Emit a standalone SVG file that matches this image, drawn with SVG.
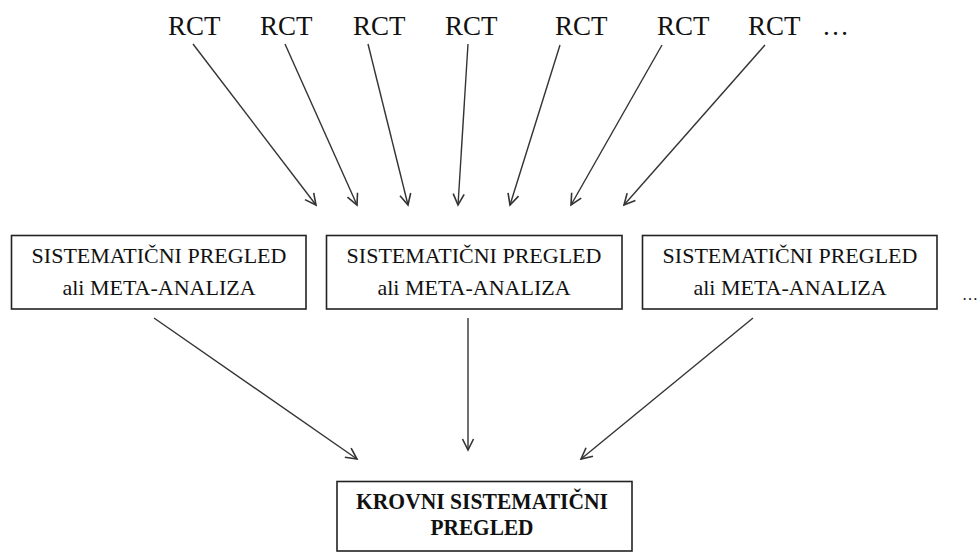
<svg xmlns="http://www.w3.org/2000/svg" width="980" height="552" viewBox="0 0 980 552">
<style>
text{font-family:'Liberation Serif','Times New Roman','DejaVu Serif',serif;fill:#111;}
.rct{font-size:27px;}
.bx{font-size:22px;text-anchor:middle;}
.bb{font-size:22.5px;font-weight:bold;text-anchor:middle;}
.box{fill:#fff;stroke:#222;stroke-width:1.6;}
.c{stroke:#333;stroke-width:1.4;fill:none;marker-end:url(#ah);}
</style>
<defs>
<marker id="ah" markerUnits="userSpaceOnUse" markerWidth="14" markerHeight="14" viewBox="0 0 14 14" refX="12" refY="7" orient="auto">
<path d="M1,1.5 L12,7 L1,12.5" fill="none" stroke="#333" stroke-width="1.6"/>
</marker>
</defs>
<rect width="980" height="552" fill="#fff"/>
<g font-family="Liberation Serif, Times New Roman, DejaVu Serif, serif">
<g id="rct1"><text class="rct" x="168" y="35">RCT</text></g>
<g id="rct2"><text class="rct" x="260" y="35">RCT</text></g>
<g id="rct3"><text class="rct" x="353" y="35">RCT</text></g>
<g id="rct4"><text class="rct" x="445" y="35">RCT</text></g>
<g id="rct5"><text class="rct" x="555" y="35">RCT</text></g>
<g id="rct6"><text class="rct" x="657" y="35">RCT</text></g>
<g id="rct7"><text class="rct" x="748" y="35">RCT</text></g>
<g id="more1"><text class="rct" x="822" y="35">…</text></g>
<g id="sr1">
<rect class="box" x="11.5" y="235.5" width="294.5" height="73.5"/>
<text class="bx" x="159" y="263">SISTEMATIČNI PREGLED</text>
<text class="bx" x="159" y="295">ali META-ANALIZA</text>
</g>
<g id="sr2">
<rect class="box" x="326.5" y="235.5" width="295.5" height="73.5"/>
<text class="bx" x="474" y="263">SISTEMATIČNI PREGLED</text>
<text class="bx" x="474" y="295">ali META-ANALIZA</text>
</g>
<g id="sr3">
<rect class="box" x="642.5" y="235.5" width="294.5" height="73.5"/>
<text class="bx" x="790" y="263">SISTEMATIČNI PREGLED</text>
<text class="bx" x="790" y="295">ali META-ANALIZA</text>
</g>
<g id="more2"><text x="978" y="300" font-size="16" text-anchor="end">…</text></g>
<g id="umbrella">
<rect class="box" x="337" y="481.5" width="295" height="69.5"/>
<text class="bb" x="482" y="509" textLength="252" lengthAdjust="spacingAndGlyphs">KROVNI SISTEMATIČNI</text>
<text class="bb" x="482" y="535" textLength="103" lengthAdjust="spacingAndGlyphs">PREGLED</text>
</g>
</g>
<g id="connectors">
<line class="c" x1="193" y1="44" x2="316" y2="205"/>
<line class="c" x1="285" y1="44" x2="357" y2="205"/>
<line class="c" x1="368" y1="44" x2="408" y2="205"/>
<line class="c" x1="468" y1="44" x2="458" y2="205"/>
<line class="c" x1="560" y1="45" x2="510" y2="205"/>
<line class="c" x1="662" y1="45" x2="571" y2="205"/>
<line class="c" x1="765" y1="45" x2="624" y2="205"/>
<line class="c" x1="154" y1="318" x2="357" y2="459"/>
<line class="c" x1="468" y1="318" x2="468" y2="450"/>
<line class="c" x1="753" y1="318" x2="581" y2="459"/>
</g>
</svg>
